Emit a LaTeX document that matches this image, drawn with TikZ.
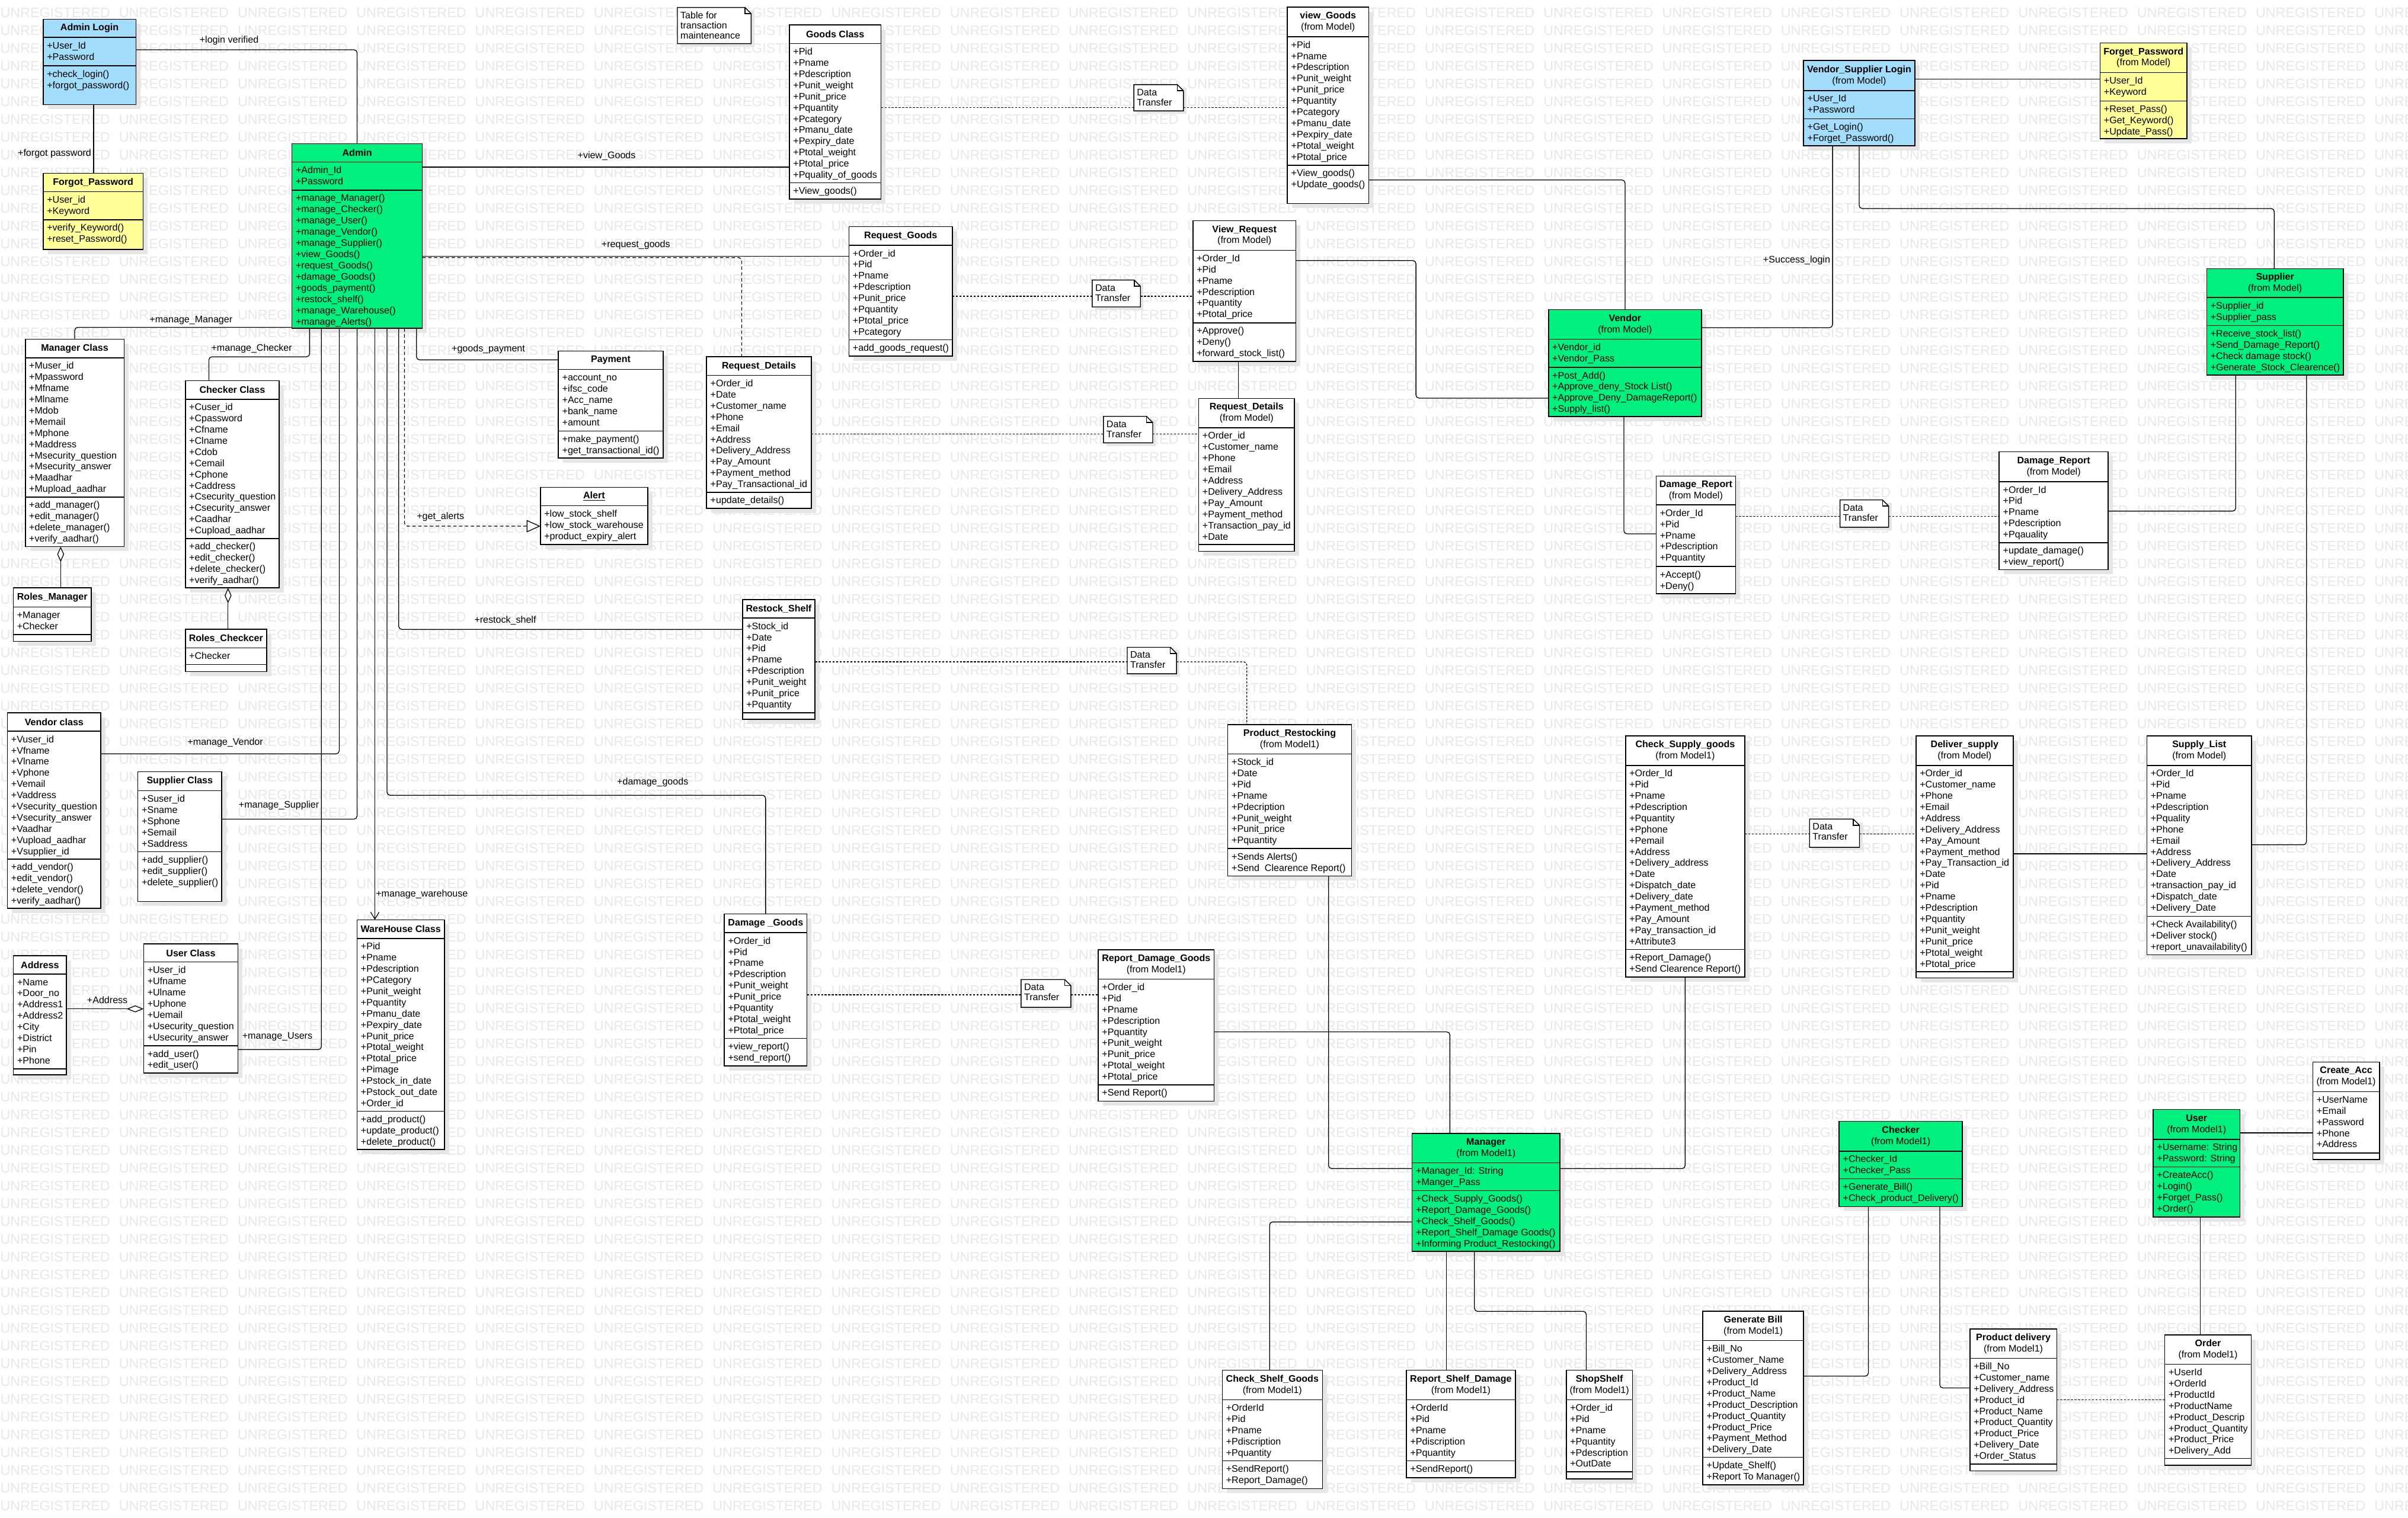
\documentclass[tikz,border=0pt]{standalone}
\usepackage{fontspec}
\setmainfont{Liberation Sans}
\usetikzlibrary{arrows.meta}
\definecolor{bluec}{RGB}{163,221,252}
\definecolor{yellowc}{RGB}{255,255,153}
\definecolor{greenc}{RGB}{0,240,128}
\definecolor{shadowc}{RGB}{230,230,230}
\definecolor{wmc}{RGB}{232,232,232}

\def\umlgeom#1,#2,#3,#4,#5,#6\relax{\def\uxA{#1}\def\uxB{#2}\def\uyA{#3}\def\uyB{#4}\def\uyC{#5}\def\uyD{#6}}
\newcommand\umlitems[3]{%
  \if\relax\detokenize{#3}\relax\else
    \node[itemst] (#1) at (\uxA+2.3,#2+2.1) {\rule{0pt}{5pt}#3};
  \fi}
\newcommand\umlclass[7]{%
  \umlgeom#2,#3\relax
  \pgfmathsetmacro\uW{\uxB-\uxA}%
  \pgfmathsetmacro\uH{\uyD-\uyA}%
  \fill[shadowc] (\uxA+3,\uyA+3) rectangle (\uxB+3,\uyD+3);
  \node[boxst, fill=#4, minimum width=\uW pt, minimum height=\uH pt] (#1) at (\uxA,\uyA) {};
  \draw[sepline] (\uxA,\uyB) -- (\uxB,\uyB);
  \draw[sepline] (\uxA,\uyC) -- (\uxB,\uyC);
  \node[titlest] (#1-t) at ({(\uxA+\uxB)/2},{(\uyA+\uyB)/2}) {#5};
  \umlitems{#1-a}{\uyB}{#6}%
  \umlitems{#1-m}{\uyC}{#7}%
}
\newcommand\notebox[6]{%
  \pgfmathsetmacro\uW{#3-#2}%
  \pgfmathsetmacro\uH{#5-#4}%
  \fill[shadowc] (#2+2,#4+2) rectangle (#3+2,#5+2);
  \filldraw[fill=white, draw=black, line width=0.55pt] (#2,#4) -- (#3-4,#4) -- (#3,#4+4) -- (#3,#5) -- (#2,#5) -- cycle;
  \draw[line width=0.55pt] (#3-4,#4) -- (#3-4,#4+4) -- (#3,#4+4);
  \node[inner sep=0pt, outer sep=0pt, minimum width=\uW pt, minimum height=\uH pt, anchor=north west] (#1) at (#2,#4) {};
  \node[itemst, font=\fontsize{6.2}{6.6}\selectfont] (#1-x) at (#2+1.8,#4+1.9) {\rule{0pt}{5pt}#6};
}
\newcommand\wmword{\makebox[77.3pt][l]{UNREGISTERED}}
\newcommand\wmrow{\wmword\wmword\wmword\wmword\wmword\wmword\wmword\wmword\wmword\wmword\wmword\wmword\wmword\wmword\wmword\wmword\wmword\wmword\wmword\wmword\wmword}

\begin{document}
\begin{tikzpicture}[x=1pt, y=-1pt, font=\fontsize{6.2}{7.3}\selectfont,
  boxst/.style={anchor=north west, inner sep=0pt, outer sep=0pt, draw=black, line width=0.6pt},
  sepline/.style={draw=black, line width=0.6pt},
  titlest/.style={align=center, inner sep=0pt, anchor=center},
  itemst/.style={anchor=north west, align=left, inner sep=0pt},
  conn/.style={draw=black, line width=0.5pt, rounded corners=2pt},
  dconn/.style={conn, dash pattern=on 1.3pt off 1pt},
  aconn/.style={conn, dash pattern=on 2.2pt off 1.6pt},
  lbl/.style={anchor=base, inner sep=0pt},
  wm/.style={anchor=west, inner sep=0pt, text=wmc, font=\fontsize{9}{9}\selectfont}]
\useasboundingbox (0,0) rectangle (1568,988.7);
\clip (0,0) rectangle (1568,988.7);
\fill[white] (0,0) rectangle (1568,988.7);
\foreach \r in {0,...,85} {\node[wm] (wm\r) at (0,{8.4+\r*11.575}) {\wmrow};}

% ---------------- classes ----------------
\umlclass{AdminLogin}{28.1,88.5}{12.5,24.4,42.9,68.1}{bluec}{\textbf{Admin Login}}{+User\_Id\\+Password}{+check\_login()\\+forgot\_password()}
\umlclass{ForgotPw}{28.1,93.2}{112.9,124.8,143.1,162.5}{yellowc}{\textbf{Forgot\_Password}}{+User\_id\\+Keyword}{+verify\_Keyword()\\+reset\_Password()}
\umlclass{Admin}{190.1,275.0}{93.5,105.6,123.9,213.9}{greenc}{\textbf{Admin}}{+Admin\_Id\\+Password}{+manage\_Manager()\\+manage\_Checker()\\+manage\_User()\\+manage\_Vendor()\\+manage\_Supplier()\\+view\_Goods()\\+request\_Goods()\\+damage\_Goods()\\+goods\_payment()\\+restock\_shelf()\\+manage\_Warehouse()\\+manage\_Alerts()}
\umlclass{ManagerC}{16.5,80.8}{220.9,233.0,323.8,356.0}{white}{\textbf{Manager Class}}{+Muser\_id\\+Mpassword\\+Mfname\\+Mlname\\+Mdob\\+Memail\\+Mphone\\+Maddress\\+Msecurity\_question\\+Msecurity\_answer\\+Maadhar\\+Mupload\_aadhar}{+add\_manager()\\+edit\_manager()\\+delete\_manager()\\+verify\_aadhar()}
\umlclass{CheckerC}{120.7,181.8}{248.0,260.0,350.8,382.9}{white}{\textbf{Checker Class}}{+Cuser\_id\\+Cpassword\\+Cfname\\+Clname\\+Cdob\\+Cemail\\+Cphone\\+Caddress\\+Csecurity\_question\\+Csecurity\_answer\\+Caadhar\\+Cupload\_aadhar}{+add\_checker()\\+edit\_checker()\\+delete\_checker()\\+verify\_aadhar()}
\umlclass{RolesM}{8.6,59.5}{382.9,395.3,413.4,417.7}{white}{\textbf{Roles\_Manager}}{+Manager\\+Checker}{}
\umlclass{RolesC}{120.7,173.6}{409.9,422.0,432.8,437.5}{white}{\textbf{Roles\_Checkcer}}{+Checker}{}
\umlclass{VendorC}{4.8,65.7}{464.2,476.3,559.6,591.7}{white}{\textbf{Vendor class}}{+Vuser\_id\\+Vfname\\+Vlname\\+Vphone\\+Vemail\\+Vaddress\\+Vsecurity\_question\\+Vsecurity\_answer\\+Vaadhar\\+Vupload\_aadhar\\+Vsupplier\_id}{+add\_vendor()\\+edit\_vendor()\\+delete\_vendor()\\+verify\_aadhar()}
\umlclass{SupplierC}{89.8,144.3}{502.7,515.0,554.8,587.1}{white}{\textbf{Supplier Class}}{+Suser\_id\\+Sname\\+Sphone\\+Semail\\+Saddress}{+add\_supplier()\\+edit\_supplier()\\+delete\_supplier()}
\umlclass{UserC}{93.5,155.0}{614.7,626.6,681.2,698.9}{white}{\textbf{User Class}}{+User\_id\\+Ufname\\+Ulname\\+Uphone\\+Uemail\\+Usecurity\_question\\+Usecurity\_answer}{+add\_user()\\+edit\_user()}
\umlclass{Address}{8.7,43.3}{622.5,634.5,696.2,700.1}{white}{\textbf{Address}}{+Name\\+Door\_no\\+Address1\\+Address2\\+City\\+District\\+Pin\\+Phone}{}
\umlclass{WareHouse}{232.5,289.4}{599.1,611.2,723.7,748.7}{white}{\textbf{WareHouse Class}}{+Pid\\+Pname\\+Pdescription\\+PCategory\\+Punit\_weight\\+Pquantity\\+Pmanu\_date\\+Pexpiry\_date\\+Punit\_price\\+Ptotal\_weight\\+Ptotal\_price\\+Pimage\\+Pstock\_in\_date\\+Pstock\_out\_date\\+Order\_id}{+add\_product()\\+update\_product()\\+delete\_product()}
\umlclass{Goods}{514.0,573.7}{16.3,28.4,119.0,129.7}{white}{\textbf{Goods Class}}{+Pid\\+Pname\\+Pdescription\\+Punit\_weight\\+Punit\_price\\+Pquantity\\+Pcategory\\+Pmanu\_date\\+Pexpiry\_date\\+Ptotal\_weight\\+Ptotal\_price\\+Pquality\_of\_goods}{+View\_goods()}
\umlclass{viewGoods}{838.3,891.2}{4.6,24.0,107.6,132.5}{white}{\textbf{view\_Goods}\\(from Model)}{+Pid\\+Pname\\+Pdescription\\+Punit\_weight\\+Punit\_price\\+Pquantity\\+Pcategory\\+Pmanu\_date\\+Pexpiry\_date\\+Ptotal\_weight\\+Ptotal\_price}{+View\_goods()\\+Update\_goods()}
\umlclass{RequestGoods}{552.8,620.2}{147.6,159.8,221.3,232.0}{white}{\textbf{Request\_Goods}}{+Order\_id\\+Pid\\+Pname\\+Pdescription\\+Punit\_price\\+Pquantity\\+Ptotal\_price\\+Pcategory}{+add\_goods\_request()}
\umlclass{ViewRequest}{776.8,843.8}{143.7,163.0,210.3,235.5}{white}{\textbf{View\_Request}\\(from Model)}{+Order\_Id\\+Pid\\+Pname\\+Pdescription\\+Pquantity\\+Ptotal\_price}{+Approve()\\+Deny()\\+forward\_stock\_list()}
\umlclass{Payment}{363.6,431.8}{228.6,240.7,280.7,298.4}{white}{\textbf{Payment}}{+account\_no\\+ifsc\_code\\+Acc\_name\\+bank\_name\\+amount}{+make\_payment()\\+get\_transactional\_id()}
\umlclass{ReqDetails}{460.1,528.3}{232.4,244.5,320.6,331.1}{white}{\textbf{Request\_Details}}{+Order\_id\\+Date\\+Customer\_name\\+Phone\\+Email\\+Address\\+Delivery\_Address\\+Pay\_Amount\\+Payment\_method\\+Pay\_Transactional\_id}{+update\_details()}
\umlclass{ReqDetailsM}{780.5,842.9}{259.5,278.6,354.7,359.1}{white}{\textbf{Request\_Details}\\(from Model)}{+Order\_id\\+Customer\_name\\+Phone\\+Email\\+Address\\+Delivery\_Address\\+Pay\_Amount\\+Payment\_method\\+Transaction\_pay\_id\\+Date}{}
\umlclass{Alert}{351.9,421.8}{317.4,329.4,354.7,354.7}{white}{\textbf{\underline{Alert}}}{+low\_stock\_shelf\\+low\_stock\_warehouse\\+product\_expiry\_alert}{}
\umlclass{RestockShelf}{483.5,530.7}{390.6,402.6,464.2,468.5}{white}{\textbf{Restock\_Shelf}}{+Stock\_id\\+Date\\+Pid\\+Pname\\+Pdescription\\+Punit\_weight\\+Punit\_price\\+Pquantity}{}
\umlclass{ProdRestock}{799.5,880.0}{471.9,491.1,552.7,570.5}{white}{\textbf{Product\_Restocking}\\(from Model1)}{+Stock\_id\\+Date\\+Pid\\+Pname\\+Pdecription\\+Punit\_weight\\+Punit\_price\\+Pquantity}{+Sends Alerts()\\+Send\ \ Clearence Report()}
\umlclass{DamageGoods}{471.6,525.5}{595.3,607.5,676.3,694.2}{white}{\textbf{Damage \_Goods}}{+Order\_id\\+Pid\\+Pname\\+Pdescription\\+Punit\_weight\\+Punit\_price\\+Pquantity\\+Ptotal\_weight\\+Ptotal\_price}{+view\_report()\\+send\_report()}
\umlclass{ReportDamage}{715.1,790.6}{618.6,637.7,706.6,717.3}{white}{\textbf{Report\_Damage\_Goods}\\(from Model1)}{+Order\_id\\+Pid\\+Pname\\+Pdescription\\+Pquantity\\+Punit\_weight\\+Punit\_price\\+Ptotal\_weight\\+Ptotal\_price}{+Send Report()}
\umlclass{VSLogin}{1174.4,1246.8}{39.4,59.0,77.3,94.9}{bluec}{\textbf{Vendor\_Supplier Login}\\(from Model)}{+User\_Id\\+Password}{+Get\_Login()\\+Forget\_Password()}
\umlclass{ForgetPw}{1367.5,1424.0}{27.9,47.2,65.8,90.4}{yellowc}{\textbf{Forget\_Password}\\(from Model)}{+User\_Id\\+Keyword}{+Reset\_Pass()\\+Get\_Keyword()\\+Update\_Pass()}
\umlclass{Vendor}{1008.3,1108.0}{201.6,220.9,239.3,271.4}{greenc}{\textbf{Vendor}\\(from Model)}{+Vendor\_id\\+Vendor\_Pass}{+Post\_Add()\\+Approve\_deny\_Stock List()\\+Approve\_Deny\_DamageReport()\\+Supply\_list()}
\umlclass{Supplier}{1436.9,1525.9}{175.0,193.8,212.1,244.3}{greenc}{\textbf{Supplier}\\(from Model)}{+Supplier\_id\\+Supplier\_pass}{+Receive\_stock\_list()\\+Send\_Damage\_Report()\\+Check damage stock()\\+Generate\_Stock\_Clearence()}
\umlclass{DamageRepL}{1078.4,1130.1}{310.1,328.9,369.0,386.6}{white}{\textbf{Damage\_Report}\\(from Model)}{+Order\_Id\\+Pid\\+Pname\\+Pdescription\\+Pquantity}{+Accept()\\+Deny()}
\umlclass{DamageRepR}{1301.8,1372.7}{294.2,313.8,353.5,371.1}{white}{\textbf{Damage\_Report}\\(from Model)}{+Order\_Id\\+Pid\\+Pname\\+Pdescription\\+Pqauality}{+update\_damage()\\+view\_report()}
\umlclass{CheckSupply}{1058.5,1136.2}{479.3,498.5,618.5,636.3}{white}{\textbf{Check\_Supply\_goods}\\(from Model1)}{+Order\_Id\\+Pid\\+Pname\\+Pdescription\\+Pquantity\\+Pphone\\+Pemail\\+Address\\+Delivery\_address\\+Date\\+Dispatch\_date\\+Delivery\_date\\+Payment\_method\\+Pay\_Amount\\+Pay\_transaction\_id\\+Attribute3}{+Report\_Damage()\\+Send Clearence Report()}
\umlclass{DeliverSupply}{1247.6,1310.9}{479.3,498.5,632.8,636.9}{white}{\textbf{Deliver\_supply}\\(from Model)}{+Order\_id\\+Customer\_name\\+Phone\\+Email\\+Address\\+Delivery\_Address\\+Pay\_Amount\\+Payment\_method\\+Pay\_Transaction\_id\\+Date\\+Pid\\+Pname\\+Pdescription\\+Pquantity\\+Punit\_weight\\+Punit\_price\\+Ptotal\_weight\\+Ptotal\_price}{}
\umlclass{SupplyList}{1397.9,1466.2}{479.3,498.5,596.8,621.9}{white}{\textbf{Supply\_List}\\(from Model)}{+Order\_Id\\+Pid\\+Pname\\+Pdescription\\+Pquality\\+Phone\\+Email\\+Address\\+Delivery\_Address\\+Date\\+transaction\_pay\_id\\+Dispatch\_date\\+Delivery\_Date}{+Check Availability()\\+Deliver stock()\\+report\_unavailability()}
\umlclass{Manager}{919.5,1015.7}{738.2,757.4,775.5,815.1}{greenc}{\textbf{Manager}\\(from Model1)}{+Manager\_Id: String\\+Manger\_Pass}{+Check\_Supply\_Goods()\\+Report\_Damage\_Goods()\\+Check\_Shelf\_Goods()\\+Report\_Shelf\_Damage Goods()\\+Informing Product\_Restocking()}
\umlclass{CheckShelf}{795.9,861.1}{892.5,911.7,951.5,969.6}{white}{\textbf{Check\_Shelf\_Goods}\\(from Model1)}{+OrderId\\+Pid\\+Pname\\+Pdiscription\\+Pquantity}{+SendReport()\\+Report\_Damage()}
\umlclass{ReportShelf}{915.8,986.7}{892.5,911.7,951.5,962.4}{white}{\textbf{Report\_Shelf\_Damage}\\(from Model1)}{+OrderId\\+Pid\\+Pname\\+Pdiscription\\+Pquantity}{+SendReport()}
\umlclass{ShopShelf}{1019.9,1063.0}{892.5,911.7,958.7,963.3}{white}{\textbf{ShopShelf}\\(from Model1)}{+Order\_id\\+Pid\\+Pname\\+Pquantity\\+Pdescription\\+OutDate}{}
\umlclass{GenBill}{1108.8,1174.4}{854.0,873.2,949.1,967.0}{white}{\textbf{Generate Bill}\\(from Model1)}{+Bill\_No\\+Customer\_Name\\+Delivery\_Address\\+Product\_Id\\+Product\_Name\\+Product\_Description\\+Product\_Quantity\\+Product\_Price\\+Payment\_Method\\+Delivery\_Date}{+Update\_Shelf()\\+Report To Manager()}
\umlclass{Checker}{1197.6,1277.8}{730.4,749.8,767.8,785.9}{greenc}{\textbf{Checker}\\(from Model1)}{+Checker\_Id\\+Checker\_Pass}{+Generate\_Bill()\\+Check\_product\_Delivery()}
\umlclass{ProdDelivery}{1282.7,1339.3}{865.5,884.7,953.5,958.1}{white}{\textbf{Product delivery}\\(from Model1)}{+Bill\_No\\+Customer\_name\\+Delivery\_Address\\+Product\_id\\+Product\_Name\\+Product\_Quantity\\+Product\_Price\\+Delivery\_Date\\+Order\_Status}{}
\umlclass{User}{1402.0,1458.6}{722.7,742.1,760.1,792.6}{greenc}{\textbf{User}\\(from Model1)}{+Username: String\\+Password: String}{+CreateAcc()\\+Login()\\+Forget\_Pass()\\+Order()}
\umlclass{CreateAcc}{1506.0,1549.4}{691.8,711.0,751.0,755.2}{white}{\textbf{Create\_Acc}\\(from Model1)}{+UserName\\+Email\\+Password\\+Phone\\+Address}{}
\umlclass{Order}{1409.6,1465.9}{869.4,888.6,950.0,954.4}{white}{\textbf{Order}\\(from Model1)}{+UserId\\+OrderId\\+ProductId\\+ProductName\\+Product\_Descrip\\+Product\_Quantity\\+Product\_Price\\+Delivery\_Add}{}

% ---------------- notes ----------------
\notebox{TableNote}{441.1}{489.1}{4.9}{28.4}{Table for\\transaction\\mainteneance}
\notebox{DT1}{738.3}{770.6}{55.1}{72.2}{Data\\Transfer}
\notebox{DT2}{711.2}{742.6}{182.4}{199.9}{Data\\Transfer}
\notebox{DT3}{718.5}{750.6}{271.2}{288.4}{Data\\Transfer}
\notebox{DT4}{734.0}{766.1}{421.6}{438.8}{Data\\Transfer}
\notebox{DT5}{664.9}{697.3}{638.0}{656.1}{Data\\Transfer}
\notebox{DT6}{1198.1}{1229.8}{325.6}{343.4}{Data\\Transfer}
\notebox{DT7}{1178.3}{1210.8}{533.5}{551.9}{Data\\Transfer}

% ---------------- connectors ----------------
\draw[conn] (AdminLogin.east |- 0,32.4) -| (Admin.north);
\draw[conn] (AdminLogin.south -| 61,0) -- (ForgotPw.north -| 61,0);
\draw[conn] (Admin.west |- 0,213.2) -| (ManagerC.north);
\draw[conn] (Admin.south -| 201.6,0) -- (201.6,232.4) -- (136,232.4) -- (CheckerC.north -| 136,0);
\draw[conn] (Admin.south -| 209.3,0) |- (UserC.east |- 0,683.6);
\draw[conn] (Admin.south -| 220.9,0) |- (VendorC.east |- 0,491);
\draw[conn] (Admin.south -| 232.5,0) |- (SupplierC.east |- 0,533.5);
\draw[conn, -{Straight Barb[length=4.5pt,width=5.5pt]}] (Admin.south -| 244.1,0) -- (WareHouse.north -| 244.1,0);
\draw[conn] (Admin.south -| 252,0) |- (DamageGoods.north |- 0,518) -- (DamageGoods.north);
\draw[conn] (Admin.south -| 259.6,0) |- (RestockShelf.west |- 0,409.9);
\draw[aconn, -{Triangle[fill=white,length=9pt,width=8pt]}] (Admin.south -| 263.4,0) |- (Alert.west |- 0,342.7);
\draw[conn] (Admin.south -| 271.2,0) |- (Payment.west |- 0,234.4);
\draw[conn] (Admin.east |- 0,108.8) -- (Goods.west |- 0,108.8);
\draw[conn] (Admin.east |- 0,166.8) -- (RequestGoods.west |- 0,166.8);
\draw[aconn] (Admin.east |- 0,167.8) -| (ReqDetails.north -| 483,0);
\draw[dconn] (Goods.east |- 0,70) -- (DT1.west |- 0,70);
\draw[dconn] (DT1.east |- 0,70) -- (viewGoods.west |- 0,70);
\draw[dconn] (RequestGoods.east |- 0,193) -- (DT2.west |- 0,193);
\draw[dconn] (DT2.east |- 0,193) -- (ViewRequest.west |- 0,193);
\draw[dconn] (ReqDetails.east |- 0,282.6) -- (DT3.west |- 0,282.6);
\draw[dconn] (DT3.east |- 0,282.6) -- (ReqDetailsM.west |- 0,282.6);
\draw[conn] (ViewRequest.south -| 806.4,0) -- (ReqDetailsM.north -| 806.4,0);
\draw[dconn] (RestockShelf.east |- 0,431.1) -- (DT4.west |- 0,431.1);
\draw[dconn] (DT4.east |- 0,431.1) -| (ProdRestock.north -| 811.9,0);
\draw[dconn] (DamageGoods.east |- 0,648) -- (DT5.west |- 0,648);
\draw[dconn] (DT5.east |- 0,648) -- (ReportDamage.west |- 0,648);
\draw[conn] (ReportDamage.east |- 0,672.1) -| (Manager.north -| 944.1,0);
\draw[conn] (ProdRestock.south -| 865.1,0) |- (Manager.west |- 0,761.1);
\draw[conn] (CheckSupply.south -| 1097.3,0) |- (Manager.east |- 0,761.1);
\draw[conn] (Manager.west |- 0,795.9) -| (CheckShelf.north -| 826.7,0);
\draw[conn] (Manager.south -| 941.9,0) -- (ReportShelf.north -| 941.9,0);
\draw[conn] (Manager.south -| 960.1,0) -- (960.1,854.1) -- (1032.9,854.1) -- (ShopShelf.north -| 1032.9,0);
\draw[conn] (viewGoods.east |- 0,117.2) -| (Vendor.north);
\draw[conn] (ViewRequest.east |- 0,169.7) -- (922,169.7) -- (922,259.3) -- (Vendor.west |- 0,259.3);
\draw[conn] (VSLogin.south -| 1193.3,0) |- (Vendor.east |- 0,213.4);
\draw[conn] (VSLogin.south -| 1210.6,0) -- (1210.6,135.8) -- (1480.9,135.8) -- (Supplier.north -| 1480.9,0);
\draw[conn] (VSLogin.east |- 0,51.5) -- (ForgetPw.west |- 0,51.5);
\draw[conn] (Vendor.south -| 1057.4,0) |- (DamageRepL.west |- 0,347.7);
\draw[dconn] (DamageRepL.east |- 0,336.4) -- (DT6.west |- 0,336.4);
\draw[dconn] (DT6.east |- 0,336.4) -- (DamageRepR.west |- 0,336.4);
\draw[conn] (DamageRepR.east |- 0,332.9) -| (Supplier.south -| 1455.8,0);
\draw[conn] (Supplier.south -| 1501.9,0) |- (SupplyList.east |- 0,550.2);
\draw[dconn] (CheckSupply.east |- 0,543.2) -- (DT7.west |- 0,543.2);
\draw[dconn] (DT7.east |- 0,543.2) -- (DeliverSupply.west |- 0,543.2);
\draw[conn] (DeliverSupply.east |- 0,556.1) -- (SupplyList.west |- 0,556.1);
\draw[conn] (Checker.south -| 1216.6,0) |- (GenBill.east |- 0,896.3);
\draw[conn] (Checker.south -| 1263.1,0) |- (ProdDelivery.west |- 0,904);
\draw[dconn] (ProdDelivery.east |- 0,911.6) -- (Order.west |- 0,911.6);
\draw[conn] (User.south -| 1432.6,0) -- (Order.north -| 1432.6,0);
\draw[conn] (User.east |- 0,737.9) -- (CreateAcc.west |- 0,737.9);
\draw[conn, {Diamond[fill=white,length=11pt,width=4.5pt]}-] (UserC.west |- 0,657.1) -- (Address.east |- 0,657.1);
\draw[conn, {Diamond[fill=white,length=10pt,width=4.5pt]}-] (ManagerC.south -| 39.5,0) -- (RolesM.north -| 39.5,0);
\draw[conn, {Diamond[fill=white,length=10pt,width=4.5pt]}-] (CheckerC.south -| 148.5,0) -- (RolesC.north -| 148.5,0);

% ---------------- labels ----------------
\node[lbl] (L1) at (149.2,28.1) {+login verified};
\node[lbl] (L2) at (35.5,101.5) {+forgot password};
\node[lbl] (L3) at (124.4,210.0) {+manage\_Manager};
\node[lbl] (L4) at (163.9,228.8) {+manage\_Checker};
\node[lbl, anchor=base west] (L5) at (271.2,338.4) {+get\_alerts};
\node[lbl] (L6) at (146.7,485.2) {+manage\_Vendor};
\node[lbl] (L7) at (181.6,526.0) {+manage\_Supplier};
\node[lbl, anchor=base west] (L8) at (244.6,584.1) {+manage\_warehouse};
\node[lbl] (L9) at (180.6,676.6) {+manage\_Users};
\node[lbl] (L10) at (69.9,653.6) {+Address};
\node[lbl] (L11) at (395,103.2) {+view\_Goods};
\node[lbl] (L12) at (414,161.2) {+request\_goods};
\node[lbl] (L13) at (318,229.2) {+goods\_payment};
\node[lbl] (L14) at (329,405.7) {+restock\_shelf};
\node[lbl] (L15) at (425,511.2) {+damage\_goods};
\node[lbl] (L16) at (1169.9,171.2) {+Success\_login};
\end{tikzpicture}
\end{document}
